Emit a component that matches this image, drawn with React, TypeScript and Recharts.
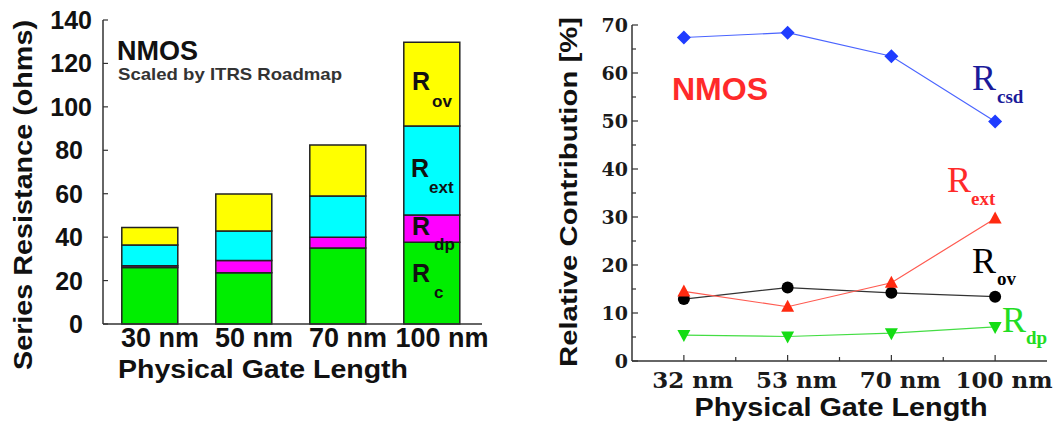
import { BarChart, Bar, XAxis, YAxis, LineChart, Line } from "recharts";

// Left panel: series resistance stack per gate length
const barCategories = ["30 nm", "50 nm", "70 nm", "100 nm"];
const rcValues = [26, 23.6, 35, 37.6];
const rdpValues = [0.8, 5.6, 5, 12.6];
const rextValues = [9.6, 13.6, 19, 41];
const rovValues = [8, 17.1, 23.4, 38.5];
const resistanceTicks = [0, 20, 40, 60, 80, 100, 120, 140];

// Right panel: relative contribution in percent
const lineCategories = ["32 nm", "53 nm", "70 nm", "100 nm"];
const rcsdShare = [67.4, 68.4, 63.5, 49.9];
const rextShare = [14.5, 11.3, 16.3, 29.7];
const rovShare = [12.9, 15.3, 14.2, 13.4];
const rdpShare = [5.4, 5.1, 5.8, 7.1];
const contributionTicks = [0, 5, 10, 15, 20, 25, 30, 35, 40, 45, 50, 55, 60, 65, 70];
const gateTicks = [0, 0.5, 1, 1.5, 2, 2.5, 3];

const barData = barCategories.map((name, i) => ({
  name,
  rc: rcValues[i],
  rdp: rdpValues[i],
  rext: rextValues[i],
  rov: rovValues[i],
}));

const lineData = lineCategories.map((name, i) => ({
  x: i,
  name,
  rcsd: rcsdShare[i],
  rext: rextShare[i],
  rov: rovShare[i],
  rdp: rdpShare[i],
}));

const SANS = "'Liberation Sans', Arial, sans-serif";
const SERIF = "'DejaVu Serif', serif";
const TIMES = "'Liberation Serif', 'Times New Roman', serif";
const FRAME = "#333";

const BarXTick = ({ x, y, payload }: any) => (
  <text x={x + 10} y={y + 23} textAnchor="middle" fontSize={27} fontWeight="bold" fill="#111" fontFamily={SANS}>
    {payload.value}
  </text>
);

const BarYTick = ({ x, y, payload }: any) => (
  <g>
    <line x1={x} x2={x + 5} y1={y} y2={y} stroke={FRAME} strokeWidth={1.2} />
    <text x={x - (payload.value >= 100 ? 11 : 20)} y={y + 9} textAnchor="end" fontSize={25} fontWeight="bold" fill="#111" fontFamily={SANS}>
      {payload.value}
    </text>
  </g>
);

const LineXTick = ({ x, y, payload }: any) => {
  const major = Number.isInteger(payload.value);
  return (
    <g>
      <line x1={x} x2={x} y1={y} y2={y - (major ? 6 : 4)} stroke={FRAME} strokeWidth={1.2} />
      {major && (
        <text x={x + 9} y={y + 27} textAnchor="middle" fontSize={23} fontWeight="bold" fill="#1a1a1a" fontFamily={SERIF}>
          {lineCategories[payload.value]}
        </text>
      )}
    </g>
  );
};

const LineYTick = ({ x, y, payload }: any) => {
  const major = payload.value % 10 === 0;
  return (
    <g>
      <line x1={x} x2={x + (major ? 6 : 4)} y1={y} y2={y} stroke={FRAME} strokeWidth={1.2} />
      {major && (
        <text x={x - 4} y={y + 7} textAnchor="end" fontSize={19} fontWeight="bold" fill="#1a1a1a" fontFamily={SERIF}>
          {payload.value}
        </text>
      )}
    </g>
  );
};

const diamondDot = (props: any) => {
  const { cx, cy, index } = props;
  const r = 7;
  return (
    <path key={`d-${index}`} d={`M${cx},${cy - r}L${cx + r},${cy}L${cx},${cy + r}L${cx - r},${cy}Z`} fill="#1f3cff" />
  );
};

const triangleUpDot = (props: any) => {
  const { cx, cy, index } = props;
  return (
    <path key={`tu-${index}`} d={`M${cx},${cy - 7}L${cx + 6.5},${cy + 5}L${cx - 6.5},${cy + 5}Z`} fill="#ff2a10" />
  );
};

const triangleDownDot = (props: any) => {
  const { cx, cy, index } = props;
  return (
    <path key={`td-${index}`} d={`M${cx},${cy + 7}L${cx + 6.5},${cy - 5}L${cx - 6.5},${cy - 5}Z`} fill="#14dd14" />
  );
};

const circleDot = (props: any) => {
  const { cx, cy, index } = props;
  return <circle key={`c-${index}`} cx={cx} cy={cy} r={6} fill="#000" />;
};

const RLabel = ({ x, y, sub, subDx, subDy, size, subSize, color, family, subWeight }: any) => (
  <text x={x} y={y} fill={color} fontFamily={family}>
    <tspan fontSize={size} fontWeight={family === SANS ? "bold" : "normal"}>R</tspan>
    <tspan dx={subDx} dy={subDy} fontSize={subSize} fontWeight={subWeight}>
      {sub}
    </tspan>
  </text>
);

const App = () => {
  return (
    <div style={{ position: "absolute", left: 0, top: 0, width: 1060, height: 429, background: "#fff" }}>
      <div style={{ position: "absolute", left: 0, top: 0 }}>
        <BarChart
          width={500}
          height={429}
          data={barData}
          margin={{ top: 20, right: 18, bottom: 65, left: 33 }}
          barCategoryGap="20%"
        >
          <XAxis
            dataKey="name"
            height={40}
            padding={{ left: 0, right: 3 }}
            tickSize={0}
            tickMargin={0}
            tickLine={false}
            tick={<BarXTick />}
            axisLine={{ stroke: FRAME, strokeWidth: 1.5 }}
          />
          <XAxis xAxisId="top" dataKey="name" orientation="top" height={0} tick={false} tickLine={false} axisLine={{ stroke: FRAME, strokeWidth: 1.5 }} />
          <YAxis
            width={70}
            domain={[0, 140]}
            ticks={resistanceTicks}
            interval={0}
            tickSize={0}
            tickMargin={0}
            tickLine={false}
            tick={<BarYTick />}
            axisLine={{ stroke: FRAME, strokeWidth: 1.5 }}
          />
          <YAxis yAxisId="right" orientation="right" width={0} domain={[0, 140]} tick={false} tickLine={false} axisLine={{ stroke: FRAME, strokeWidth: 1.5 }} />
          <Bar dataKey="rc" stackId="r" fill="#00ee00" stroke="#222" strokeWidth={1.5} isAnimationActive={false} />
          <Bar dataKey="rdp" stackId="r" fill="#ff00ff" stroke="#222" strokeWidth={1.5} isAnimationActive={false} />
          <Bar dataKey="rext" stackId="r" fill="#00ffff" stroke="#222" strokeWidth={1.5} isAnimationActive={false} />
          <Bar dataKey="rov" stackId="r" fill="#ffff00" stroke="#222" strokeWidth={1.5} isAnimationActive={false} />
        </BarChart>
      </div>

      <div style={{ position: "absolute", left: 560, top: 0 }}>
        <LineChart width={500} height={429} data={lineData} margin={{ top: 25, right: 13, bottom: 28, left: 12 }}>
          <XAxis
            type="number"
            dataKey="x"
            domain={[-0.5, 3.5]}
            ticks={gateTicks}
            interval={0}
            height={40}
            tickSize={0}
            tickMargin={0}
            tickLine={false}
            tick={<LineXTick />}
            axisLine={{ stroke: FRAME, strokeWidth: 1.5 }}
          />
          <XAxis xAxisId="top" type="number" dataKey="x" domain={[-0.5, 3.5]} orientation="top" height={0} tick={false} tickLine={false} axisLine={{ stroke: FRAME, strokeWidth: 1.5 }} />
          <YAxis
            width={60}
            domain={[0, 70]}
            ticks={contributionTicks}
            interval={0}
            tickSize={0}
            tickMargin={0}
            tickLine={false}
            tick={<LineYTick />}
            axisLine={{ stroke: FRAME, strokeWidth: 1.5 }}
          />
          <YAxis yAxisId="right" orientation="right" width={0} domain={[0, 70]} tick={false} tickLine={false} axisLine={{ stroke: FRAME, strokeWidth: 1.5 }} />
          <Line dataKey="rcsd" stroke="#4a64ff" strokeWidth={1.2} dot={diamondDot} isAnimationActive={false} />
          <Line dataKey="rov" stroke="#333" strokeWidth={1.2} dot={circleDot} isAnimationActive={false} />
          <Line dataKey="rext" stroke="#ff5a50" strokeWidth={1.2} dot={triangleUpDot} isAnimationActive={false} />
          <Line dataKey="rdp" stroke="#44dd44" strokeWidth={1.2} dot={triangleDownDot} isAnimationActive={false} />
        </LineChart>
      </div>

      <svg width={1060} height={429} style={{ position: "absolute", left: 0, top: 0, pointerEvents: "none" }}>
        {/* left panel texts */}
        <text
          transform="translate(32,195) rotate(-90)"
          textAnchor="middle"
          fontSize={26}
          fontWeight="bold"
          fontFamily={SANS}
          fill="#111"
          textLength={350}
          lengthAdjust="spacingAndGlyphs"
        >
          Series Resistance (ohms)
        </text>
        <text x={263} y={378} textAnchor="middle" fontSize={26} fontWeight="bold" fontFamily={SANS} fill="#111" textLength={290} lengthAdjust="spacingAndGlyphs">
          Physical Gate Length
        </text>
        <text x={117} y={60} fontSize={27} fontWeight="bold" fontFamily={SANS} fill="#111">
          NMOS
        </text>
        <text x={118} y={80} fontSize={17} fontWeight="bold" fontFamily={SANS} fill="#333" textLength={224} lengthAdjust="spacingAndGlyphs">
          Scaled by ITRS Roadmap
        </text>
        <RLabel x={412} y={90} sub="ov" subDx={2} subDy={17} size={25} subSize={17} color="#111" family={SANS} subWeight="bold" />
        <RLabel x={411} y={177} sub="ext" subDx={0} subDy={16} size={25} subSize={17} color="#111" family={SANS} subWeight="bold" />
        <RLabel x={412} y={235} sub="dp" subDx={4} subDy={15} size={25} subSize={17} color="#111" family={SANS} subWeight="bold" />
        <RLabel x={412} y={282} sub="c" subDx={4} subDy={16} size={25} subSize={17} color="#111" family={SANS} subWeight="bold" />

        {/* right panel texts */}
        <text
          transform="translate(577,192) rotate(-90)"
          textAnchor="middle"
          fontSize={24}
          fontWeight="bold"
          fontFamily={SANS}
          fill="#111"
          textLength={350}
          lengthAdjust="spacingAndGlyphs"
        >
          Relative Contribution [%]
        </text>
        <text x={841} y={416} textAnchor="middle" fontSize={26} fontWeight="bold" fontFamily={SANS} fill="#111" textLength={293} lengthAdjust="spacingAndGlyphs">
          Physical Gate Length
        </text>
        <text x={672} y={100} fontSize={31} fontWeight="bold" fontFamily={SANS} fill="#ff2a2a" textLength={96} lengthAdjust="spacingAndGlyphs">
          NMOS
        </text>
        <RLabel x={972} y={90} sub="csd" subDx={1} subDy={13} size={36} subSize={19} color="#1a1a9a" family={TIMES} subWeight="bold" />
        <RLabel x={947} y={192} sub="ext" subDx={0} subDy={13} size={36} subSize={19} color="#ff2a2a" family={TIMES} subWeight="bold" />
        <RLabel x={972} y={273} sub="ov" subDx={1} subDy={12} size={36} subSize={19} color="#000" family={TIMES} subWeight="bold" />
        <RLabel x={1002} y={332} sub="dp" subDx={0} subDy={12} size={36} subSize={19} color="#22dd22" family={TIMES} subWeight="bold" />
      </svg>
    </div>
  );
};

export default App;
